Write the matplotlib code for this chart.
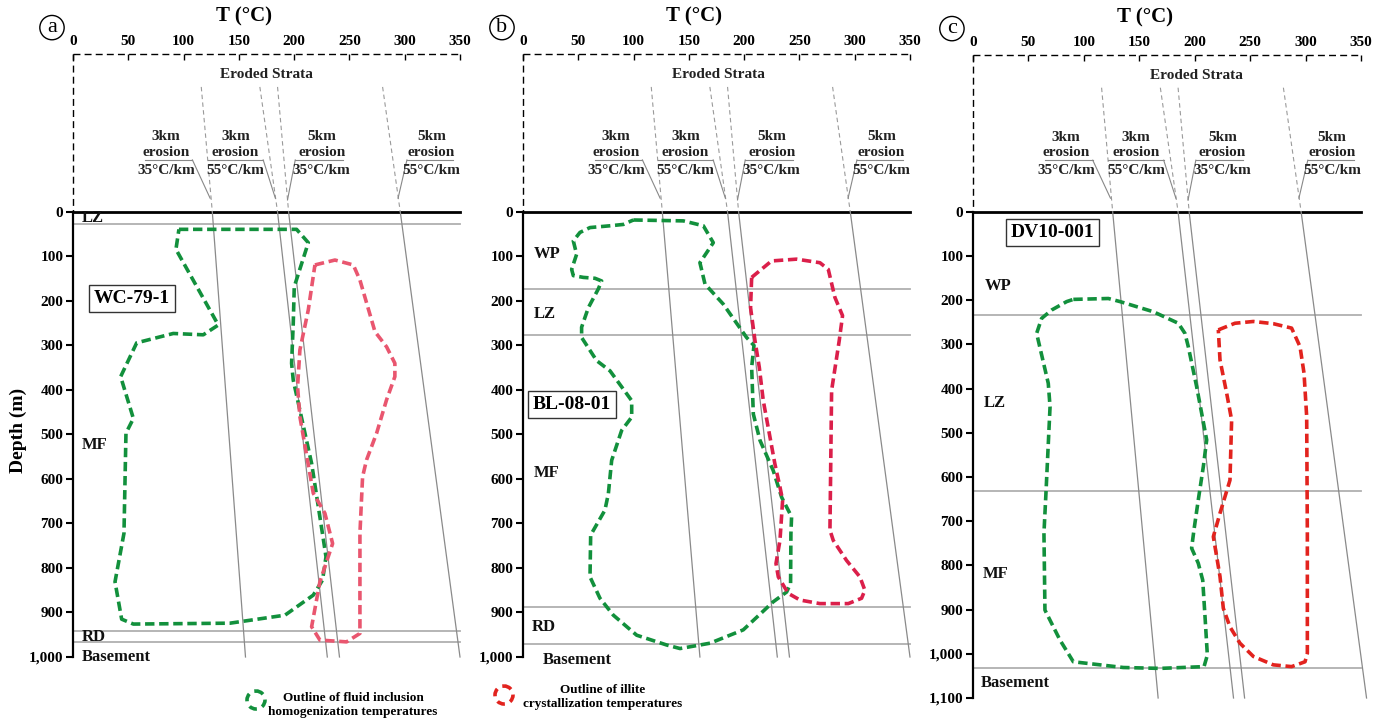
import matplotlib.pyplot as plt
from matplotlib.patches import Circle

plt.rcParams['font.family'] = ['Liberation Serif', 'DejaVu Serif']
plt.rcParams['font.weight'] = 'bold'

# temperature axis and depth ticks
temp_ticks = [0, 50, 100, 150, 200, 250, 300, 350]
depth_ticks_ab = [0, 100, 200, 300, 400, 500, 600, 700, 800, 900, 1000]
depth_ticks_c = depth_ticks_ab + [1100]
top_depth = -355          # top of the eroded-strata zone
upper_depth = -281        # where the projected geotherms start

# geotherms: T at upper_depth, at surface (0 m) and at the base of the plot
geo_names = ["3km\nerosion\n35°C/km", "3km\nerosion\n55°C/km",
             "5km\nerosion\n35°C/km", "5km\nerosion\n55°C/km"]
geo_upper = [116, 169, 185, 280]
geo_surface = [126, 185, 195, 296]
geo_base_a = [156, 230, 241, 350]
geo_base_b = [160, 230, 241, 350]
geo_base_c = [167, 235, 245, 355]

# label placement for the geotherm notes
note_T = [84, 147, 225, 324]
note_line = [(65, 108), (122, 172), (201, 244), (302, 344)]
note_end = [(108, 124, -31), (172, 183, -31), (201, 194, -27), (302, 294, -31)]

# WC-79-1
bounds_a = [27, 941, 966]
fm_a = ["LZ", "MF", "RD", "Basement"]
fm_a_depth = [14, 523, 954, 999]
fm_a_T = [8, 8, 8, 8]
green_a_T = [95.8, 202.2, 212.8, 200.1, 199.2, 197.7, 199.2, 215.8, 227.0, 228.8,
             225.7, 217.3, 191.7, 142.0, 54.6, 44.0, 38.0, 46.1, 47.9, 54.6,
             43.1, 57.6, 90.7, 117.8, 131.4, 93.1]
green_a_d = [39, 39, 69, 168, 250, 340, 378, 565, 745, 775,
             827, 861, 906, 924, 926, 915, 831, 722, 497, 464,
             370, 294, 273, 276, 254, 84]
red_a_T = [218.8, 236.9, 253.5, 259.5, 273.1, 283.6, 291.1, 291.1, 283.6, 274.6,
           265.5, 261.9, 259.5, 259.5, 247.4, 223.3, 215.8, 223.3, 234.8, 227.8,
           217.3, 205.2, 203.1, 205.2, 212.8]
red_a_d = [119, 108, 119, 153, 269, 303, 340, 370, 422, 497,
           557, 595, 722, 947, 966, 962, 932, 831, 745, 677,
           632, 460, 393, 310, 220]

# BL-08-01
bounds_b = [172, 276, 887, 971]
fm_b = ["WP", "LZ", "MF", "RD", "Basement"]
fm_b_depth = [94, 229, 587, 932, 1007]
fm_b_T = [10, 10, 10, 8, 18]
green_b_T = [99.8, 145.0, 163.1, 172.1, 160.0, 164.6, 181.1, 202.2, 208.9, 206.8,
             208.3, 214.3, 226.3, 233.9, 242.9, 242.3, 242.0, 238.4, 226.3, 199.2,
             169.1, 142.0, 129.9, 102.8, 81.7, 69.6, 60.6, 61.2, 74.1, 77.2,
             80.2, 89.2, 98.3, 98.3, 90.7, 78.7, 66.6, 53.0, 53.0, 59.1,
             68.1, 71.1, 65.1, 54.6, 45.5, 44.0, 48.5, 45.5, 51.5, 60.6,
             78.7, 90.7]
green_b_d = [18, 20, 31, 69, 114, 162, 207, 282, 300, 349,
             454, 513, 581, 641, 685, 723, 835, 854, 876, 939,
             969, 981, 973, 951, 906, 868, 820, 726, 670, 633,
             558, 491, 461, 424, 398, 357, 334, 282, 259, 215,
             173, 155, 149, 147, 143, 129, 95, 65, 46, 35,
             31, 28]
red_b_T = [206.8, 224.8, 247.4, 268.5, 276.1, 282.1, 289.0, 286.0, 279.1, 277.6,
           280.6, 292.6, 304.7, 309.2, 306.2, 294.2, 268.5, 250.5, 239.9, 230.9,
           228.8, 232.4, 234.8, 232.4, 227.8, 217.3, 213.7, 209.8, 205.8]
red_b_d = [147, 110, 106, 114, 129, 192, 233, 289, 401, 715,
           738, 783, 820, 850, 868, 880, 880, 872, 857, 820,
           790, 738, 648, 618, 566, 424, 349, 289, 215]

# DV10-001
bounds_c = [234, 632, 1032]
fm_c = ["WP", "LZ", "MF", "Basement"]
fm_c_depth = [167, 433, 820, 1065]
fm_c_T = [11, 10, 9, 7]
green_c_T = [90.5, 122.1, 132.6, 162.7, 185.2, 191.2, 194.2, 201.7, 210.8, 207.8,
             203.2, 199.3, 197.2, 203.2, 207.2, 209.3, 211.4, 208.4, 168.7, 135.6,
             90.5, 78.5, 64.9, 64.0, 65.8, 69.5, 67.9, 57.4, 61.9, 71.0, 84.5]
green_c_d = [198, 196, 203, 226, 252, 275, 305, 395, 516, 576,
             652, 720, 761, 795, 833, 916, 1003, 1029, 1033, 1031,
             1018, 969, 901, 727, 637, 441, 388, 275, 241, 222, 203]
red_c_T = [221.3, 236.3, 252.9, 270.9, 287.4, 295.0, 298.6, 301.0, 301.6, 301.6,
           299.5, 287.4, 270.9, 252.9, 240.8, 231.8, 225.8, 222.8, 216.8, 222.8,
           231.8, 233.3, 228.8, 222.8]
red_c_d = [267, 252, 248, 253, 263, 305, 365, 463, 727, 999,
           1018, 1029, 1025, 1006, 976, 939, 897, 825, 735, 682,
           607, 471, 410, 335]

green = "#12903c"
reds = ["#e9566f", "#db1f4a", "#e2231e"]


def draw_panel(ax, base, dticks, geo_base, bounds, fm, fm_d, fm_T, well, well_pos,
               gT, gd, rT, rd, rcol, letter, strata_T):
    ax.set_xlim(0, 350)
    ax.set_ylim(base, top_depth)
    for s in ["top", "right", "bottom"]:
        ax.spines[s].set_visible(False)
    ax.spines["left"].set_bounds(0, base)
    ax.spines["left"].set_linewidth(1.6)

    ax.xaxis.tick_top()
    ax.set_xticks(temp_ticks)
    ax.tick_params(axis="x", direction="in", length=4, width=1, pad=4, labelsize=11)
    ax.set_yticks(dticks)
    ax.set_yticklabels([f"{d:,}" for d in dticks])
    ax.tick_params(axis="y", direction="out", length=5, width=1.5, pad=2, labelsize=11)

    # dashed frame of the eroded zone
    ax.plot([0, 350], [top_depth, top_depth], color="k", lw=1, dashes=(5, 3), clip_on=False)
    ax.plot([0, 0], [top_depth, 0], color="k", lw=1, dashes=(5, 3), clip_on=False)
    ax.text(strata_T, -308, "Eroded Strata", ha="center", va="center", fontsize=11, color="#222")

    # formation boundaries and surface
    for b in bounds:
        ax.plot([0, 350], [b, b], color="#b0b0b0", lw=1.3, clip_on=False)
    ax.plot([0, 350], [0, 0], color="k", lw=2, clip_on=False)

    # geotherms
    for i in range(4):
        ax.plot([geo_upper[i], geo_surface[i]], [upper_depth, 0], color="#9a9a9a",
                lw=0.8, dashes=(4, 3))
        ax.plot([geo_surface[i], geo_base[i]], [0, base], color="#8a8a8a", lw=0.9,
                clip_on=False)
        lines = geo_names[i].split("\n")
        for txt, d in zip(lines, [-169, -134, -94]):
            ax.text(note_T[i], d, txt, ha="center", va="center", fontsize=11, color="#222")
        x0, x1 = note_line[i]
        ax.plot([x0, x1], [-117, -117], color="#888", lw=0.8)
        xs, xe, de = note_end[i]
        ax.plot([xs, xe], [-117, de], color="#888", lw=0.8)

    for name, d, t in zip(fm, fm_d, fm_T):
        ax.text(t, d, name, ha="left", va="center", fontsize=12, color="#111")
    ax.text(well_pos[0], well_pos[1], well, ha="center", va="center", fontsize=14,
            bbox=dict(boxstyle="square,pad=0.25", fc="white", ec="#333", lw=1))

    # outlines
    ax.plot(gT + gT[:1], gd + gd[:1], color=green, lw=2.6, dashes=(2.6, 1.3))
    ax.plot(rT + rT[:1], rd + rd[:1], color=rcol, lw=2.6, dashes=(2.6, 1.3))

    ax.annotate("T (°C)", xy=(155, 1), xycoords=("data", "axes fraction"),
                xytext=(0, 27), textcoords="offset points", ha="center", va="center",
                fontsize=15)
    ax.annotate(letter, xy=(-19, 1), xycoords=("data", "axes fraction"),
                xytext=(0, 19), textcoords="offset points", ha="center", va="center",
                fontsize=16, fontweight="normal",
                bbox=dict(boxstyle="circle,pad=0.12", fc="white", ec="k", lw=1))


fig = plt.figure(figsize=(13.89, 7.22), dpi=100)
W, H = 1389, 722


def box(x0, x1, y0, y1):
    return [x0 / W, 1 - y1 / H, (x1 - x0) / W, (y1 - y0) / H]


ax_a = fig.add_axes(box(73, 460, 54, 657))
ax_b = fig.add_axes(box(523, 910, 54, 657))
ax_c = fig.add_axes(box(973, 1361, 55, 698))

draw_panel(ax_a, 1000, depth_ticks_ab, geo_base_a, bounds_a, fm_a, fm_a_depth, fm_a_T,
           "WC-79-1", (53, 194), green_a_T, green_a_d, red_a_T, red_a_d, reds[0], "a", 175)
draw_panel(ax_b, 1000, depth_ticks_ab, geo_base_b, bounds_b, fm_b, fm_b_depth, fm_b_T,
           "BL-08-01", (44, 433), green_b_T, green_b_d, red_b_T, red_b_d, reds[1], "b", 177)
draw_panel(ax_c, 1100, depth_ticks_c, geo_base_c, bounds_c, fm_c, fm_c_depth, fm_c_T,
           "DV10-001", (72, 47), green_c_T, green_c_d, red_c_T, red_c_d, reds[2], "c", 202)

fig.text(18 / W, 1 - 430 / H, "Depth (m)", rotation=90, ha="center", va="center", fontsize=14)

# legend drawn in figure pixel space
leg = fig.add_axes([0, 0, 1, 1], facecolor="none")
leg.set_xlim(0, W)
leg.set_ylim(H, 0)
leg.axis("off")
leg.add_patch(Circle((256, 700), 9, fill=False, ec=green, lw=2.6, ls=(0, (2.2, 1.6))))
leg.text(353, 705, "Outline of fluid inclusion\nhomogenization temperatures", ha="center",
         va="center", fontsize=9.5, linespacing=1.25)
leg.add_patch(Circle((504, 695), 9, fill=False, ec=reds[2], lw=2.6, ls=(0, (2.2, 1.6))))
leg.text(603, 697, "Outline of illite\ncrystallization temperatures", ha="center",
         va="center", fontsize=9.5, linespacing=1.25)

fig.savefig("out.png", dpi=100)
